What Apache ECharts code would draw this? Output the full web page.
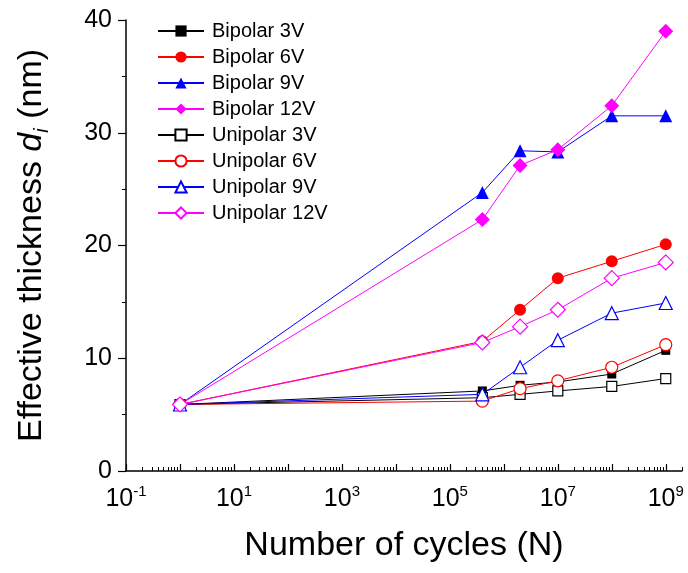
<!DOCTYPE html>
<html>
<head>
<meta charset="utf-8">
<script src="https://cdn.jsdelivr.net/npm/echarts@6/dist/echarts.min.js"></script>
<style>
  html, body { margin: 0; padding: 0; background: #fff; }
  #chart { width: 688px; height: 573px; }
</style>
</head>
<body>
<div id="chart"></div>
<script>
// number of cycles N for each measurement
var cycles = [1, 4e5, 2e6, 1e7, 1e8, 1e9]

// effective thickness d_i (nm)
var bipolar3V = [5.9, 7.1, 7.6, 7.9, 8.6, 10.7]
var bipolar6V = [5.9, 11.5, 14.3, 17.1, 18.6, 20.1]
var bipolar9V = [5.9, 24.7, 28.4, 28.3, 31.5, 31.5]
var bipolar12V = [5.9, 22.3, 27.1, 28.5, 32.4, 39.0]
var unipolar3V = [5.9, 6.5, 6.8, 7.1, 7.5, 8.2]
var unipolar6V = [5.9, 6.2, 7.3, 8.0, 9.2, 11.2]
var unipolar9V = [5.9, 6.8, 9.2, 11.6, 14.0, 14.9]
var unipolar12V = [5.9, 11.4, 12.8, 14.3, 17.1, 18.5]

// x axis: decades (log10 N)
var xMin = -1
var xMax = Math.log10(2e9)
var xMajorTicks = [-1, 0, 1, 2, 3, 4, 5, 6, 7, 8, 9]
var xLabelExps = [-1, 1, 3, 5, 7, 9]

var font = "'Liberation Sans', Arial, sans-serif"

var seriesDefs = [
  { name: 'Bipolar 3V', values: bipolar3V, color: '#000000', symbol: 'rect', size: 9, hollow: false },
  { name: 'Bipolar 6V', values: bipolar6V, color: '#ff0000', symbol: 'circle', size: 12, hollow: false },
  { name: 'Bipolar 9V', values: bipolar9V, color: '#0000ff', symbol: 'triangle', size: 13, hollow: false },
  { name: 'Bipolar 12V', values: bipolar12V, color: '#ff00ff', symbol: 'diamond', size: 15, hollow: false },
  { name: 'Unipolar 3V', values: unipolar3V, color: '#000000', symbol: 'rect', size: 10, hollow: true },
  { name: 'Unipolar 6V', values: unipolar6V, color: '#ff0000', symbol: 'circle', size: 12, hollow: true },
  { name: 'Unipolar 9V', values: unipolar9V, color: '#0000ff', symbol: 'triangle', size: 13, hollow: true },
  { name: 'Unipolar 12V', values: unipolar12V, color: '#ff00ff', symbol: 'diamond', size: 15, hollow: true }
]

// minor ticks at 2..9 x 10^d
var xMinorTicks = []
for (var d = -1; d <= 9; d++) {
  for (var k = 2; k <= 9; k++) {
    var v = Math.log10(k) + d
    if (v <= xMax + 1e-9) xMinorTicks.push(v)
  }
}

var chart = echarts.init(document.getElementById('chart'), null, { renderer: 'canvas' })

chart.setOption({
  animation: false,
  backgroundColor: '#ffffff',
  textStyle: { fontFamily: font },
  grid: {
    left: 126,
    right: 6,
    top: 20,
    bottom: 102,
    containLabel: false,
    outerBoundsMode: 'none'
  },
  legend: {
    orient: 'vertical',
    left: 157,
    top: 21,
    padding: 0,
    itemWidth: 46,
    itemHeight: 14,
    itemGap: 6,
    textStyle: { fontFamily: font, fontSize: 20, color: '#000', lineHeight: 20, padding: [0, 0, 0, 3] },
    data: seriesDefs.map(function(s) { return s.name })
  },
  xAxis: [
    {
      type: 'value',
      min: xMin,
      max: xMax,
      interval: 1,
      axisLine: { show: true, onZero: false, lineStyle: { color: '#000', width: 1.5 } },
      axisTick: { show: true, inside: true, length: 7, customValues: xMajorTicks, lineStyle: { color: '#000', width: 1.2 } },
      splitLine: { show: false },
      axisLabel: {
        customValues: xLabelExps,
        margin: 13,
        color: '#000',
        fontFamily: font,
        fontSize: 25,
        formatter: function(v) { return '{b|10}{s|' + Math.round(v) + '}' },
        rich: {
          b: { fontFamily: font, fontSize: 25, color: '#000', lineHeight: 28, verticalAlign: 'bottom' },
          s: { fontFamily: font, fontSize: 15, color: '#000', lineHeight: 15, verticalAlign: 'top' }
        }
      },
      name: 'Number of cycles (N)',
      nameLocation: 'middle',
      nameGap: 58,
      nameTextStyle: { fontFamily: font, fontSize: 34, color: '#000' }
    },
    {
      type: 'value',
      min: xMin,
      max: xMax,
      position: 'bottom',
      axisLine: { show: false, onZero: false },
      axisTick: { show: true, inside: true, length: 4, customValues: xMinorTicks, lineStyle: { color: '#000', width: 1 } },
      axisLabel: { show: false },
      splitLine: { show: false }
    }
  ],
  yAxis: {
    type: 'value',
    min: 0,
    max: 40,
    interval: 10,
    axisLine: { show: true, onZero: false, lineStyle: { color: '#000', width: 1.5 } },
    axisTick: { show: true, inside: false, length: 8, lineStyle: { color: '#000', width: 1.2 } },
    minorTick: { show: true, splitNumber: 2, length: 4, lineStyle: { color: '#000', width: 1 } },
    splitLine: { show: false },
    minorSplitLine: { show: false },
    axisLabel: { margin: 14, color: '#000', fontFamily: font, fontSize: 25 },
    name: '{a|Effective thickness }{d|d}{s|i}{a| (nm)}',
    nameLocation: 'middle',
    nameGap: 74,
    nameRotate: 90,
    nameTextStyle: {
      fontFamily: font,
      fontSize: 34,
      color: '#000',
      rich: {
        a: { fontFamily: font, fontSize: 34, color: '#000', lineHeight: 40 },
        d: { fontFamily: font, fontSize: 34, fontStyle: 'italic', color: '#000', lineHeight: 40 },
        s: { fontFamily: font, fontSize: 20, fontStyle: 'italic', color: '#000', lineHeight: 20, verticalAlign: 'bottom' }
      }
    }
  },
  series: seriesDefs.map(function(s) {
    return {
      name: s.name,
      type: 'line',
      xAxisIndex: 0,
      symbol: s.symbol,
      symbolSize: s.size,
      showAllSymbol: true,
      lineStyle: { color: s.color, width: 1 },
      itemStyle: {
        color: s.hollow ? '#ffffff' : s.color,
        borderColor: s.color,
        borderWidth: s.hollow ? 1.2 : 0
      },
      emphasis: { disabled: true },
      data: cycles.map(function(n, i) { return [Math.log10(n), s.values[i]] })
    }
  })
})
</script>
</body>
</html>
